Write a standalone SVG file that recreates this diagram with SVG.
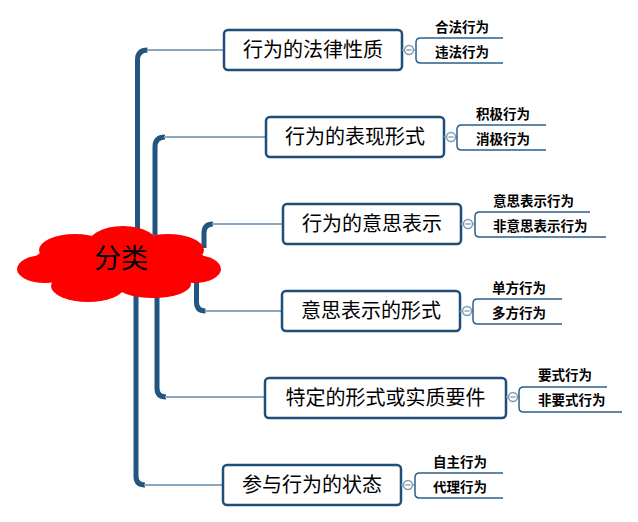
<svg xmlns="http://www.w3.org/2000/svg" width="638" height="522" viewBox="0 0 638 522">
<style>
.trunk{fill:none;stroke:#22557f;stroke-width:5;stroke-linecap:butt}
.twig{fill:none;stroke:#8ca6be;stroke-width:2}
.box{fill:#fff;stroke:#1f4e79;stroke-width:2.5}
.mt{font-family:"Noto Sans CJK SC","Noto Sans",sans-serif;font-size:20px;fill:#000;text-anchor:middle}
.st{font-family:"Noto Sans CJK SC","Noto Sans",sans-serif;font-size:13.5px;font-weight:bold;fill:#000}
.br{fill:none;stroke:#2d5f8a;stroke-width:1.5}
.btn{fill:#fff;stroke:#7f9bb5;stroke-width:1.5}
.cl{fill:none;stroke:#8ca6be;stroke-width:1.5}
.ct{font-family:"Noto Sans CJK SC","Noto Sans",sans-serif;font-size:27px;fill:#000;text-anchor:middle}
</style>
<g id="connectors">
<path class="trunk" d="M137.5,230 V60 Q137.5,50 147.5,50"/><line class="twig" x1="147" y1="50" x2="224" y2="50"/>
<path class="trunk" d="M155,235 V147 Q155,137 165,137"/><line class="twig" x1="164" y1="137" x2="266" y2="137"/>
<path class="trunk" d="M204,248 V233 Q204,224 213,224"/><line class="twig" x1="212" y1="224" x2="283" y2="224"/>
<path class="trunk" d="M196.5,280 V302 Q196.5,311 205.5,311"/><line class="twig" x1="205" y1="311" x2="282" y2="311"/>
<path class="trunk" d="M157,290 V388 Q157,397 166,397"/><line class="twig" x1="165" y1="397" x2="265" y2="397"/>
<path class="trunk" d="M136,290 V476 Q136,485 145,485"/><line class="twig" x1="144" y1="485" x2="223" y2="485"/>
</g>
<g id="root">
<g fill="#ff0000">
<ellipse cx="120" cy="264" rx="88" ry="26"/>
<ellipse cx="123" cy="247" rx="37" ry="21"/>
<ellipse cx="75" cy="250" rx="36" ry="16"/>
<ellipse cx="168" cy="250" rx="36" ry="16"/>
<ellipse cx="45" cy="269" rx="28" ry="14"/>
<ellipse cx="194" cy="269" rx="27" ry="14"/>
<ellipse cx="88" cy="286" rx="37" ry="16"/>
<ellipse cx="153" cy="284" rx="38" ry="14"/>
</g>
<text class="ct" x="121" y="268">分类</text>
</g>
<g id="n1">
<rect class="box" x="224" y="30" width="178" height="40" rx="4"/>
<text class="mt" x="313" y="57">行为的法律性质</text>
<line class="cl" x1="402" y1="50" x2="415" y2="50"/>
<circle class="btn" cx="409" cy="50" r="4.5"/><line class="cl" x1="406.5" y1="50" x2="411.5" y2="50"/>
<path class="br" d="M503,38 H420.5 Q416,38 416,42.5 V58.5 Q416,63 420.5,63 H503"/>
<text class="st" x="435" y="32">合法行为</text>
<text class="st" x="435" y="57">违法行为</text>
</g>
<g id="n2">
<rect class="box" x="266" y="117" width="178" height="40" rx="4"/>
<text class="mt" x="355" y="144">行为的表现形式</text>
<line class="cl" x1="444" y1="137" x2="457" y2="137"/>
<circle class="btn" cx="451" cy="137" r="4.5"/><line class="cl" x1="448.5" y1="137" x2="453.5" y2="137"/>
<path class="br" d="M546,125 H461.5 Q457,125 457,129.5 V145.5 Q457,150 461.5,150 H546"/>
<text class="st" x="476" y="119">积极行为</text>
<text class="st" x="476" y="144">消极行为</text>
</g>
<g id="n3">
<rect class="box" x="283" y="204" width="178" height="40" rx="4"/>
<text class="mt" x="372" y="231">行为的意思表示</text>
<line class="cl" x1="461" y1="224" x2="475" y2="224"/>
<circle class="btn" cx="468" cy="224" r="4.5"/><line class="cl" x1="465.5" y1="224" x2="470.5" y2="224"/>
<path class="br" d="M590,212 H479.5 Q475,212 475,216.5 V232.5 Q475,237 479.5,237 H606"/>
<text class="st" x="493" y="206">意思表示行为</text>
<text class="st" x="493" y="231">非意思表示行为</text>
</g>
<g id="n4">
<rect class="box" x="282" y="291" width="178" height="40" rx="4"/>
<text class="mt" x="371" y="318">意思表示的形式</text>
<line class="cl" x1="460" y1="311" x2="473" y2="311"/>
<circle class="btn" cx="467" cy="311" r="4.5"/><line class="cl" x1="464.5" y1="311" x2="469.5" y2="311"/>
<path class="br" d="M562,299 H477.5 Q473,299 473,303.5 V319.5 Q473,324 477.5,324 H562"/>
<text class="st" x="492" y="293">单方行为</text>
<text class="st" x="492" y="318">多方行为</text>
</g>
<g id="n5">
<rect class="box" x="265" y="378" width="241" height="40" rx="4"/>
<text class="mt" x="385.5" y="405">特定的形式或实质要件</text>
<line class="cl" x1="506" y1="397" x2="519" y2="397"/>
<circle class="btn" cx="513" cy="397" r="4.5"/><line class="cl" x1="510.5" y1="397" x2="515.5" y2="397"/>
<path class="br" d="M607,387 H523.5 Q519,387 519,391.5 V407.5 Q519,412 523.5,412 H622"/>
<text class="st" x="538" y="380">要式行为</text>
<text class="st" x="538" y="405">非要式行为</text>
</g>
<g id="n6">
<rect class="box" x="223" y="465" width="178" height="40" rx="4"/>
<text class="mt" x="312" y="492">参与行为的状态</text>
<line class="cl" x1="401" y1="485" x2="415" y2="485"/>
<circle class="btn" cx="408" cy="485" r="4.5"/><line class="cl" x1="405.5" y1="485" x2="410.5" y2="485"/>
<path class="br" d="M503,473 H419.5 Q415,473 415,477.5 V493.5 Q415,498 419.5,498 H503"/>
<text class="st" x="433" y="467">自主行为</text>
<text class="st" x="433" y="492">代理行为</text>
</g>
</svg>
